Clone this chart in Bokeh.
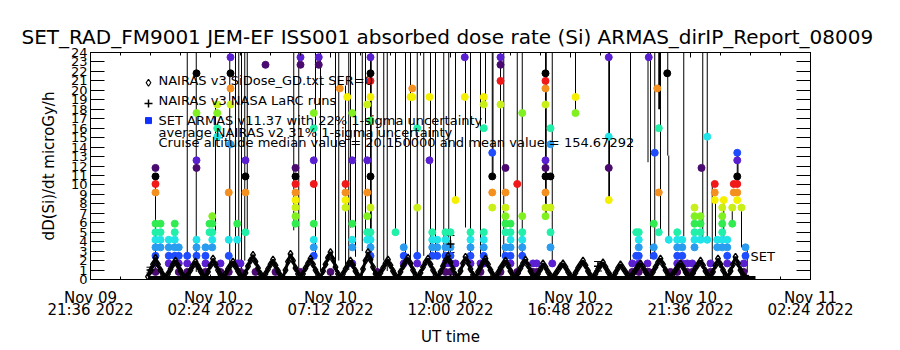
import numpy as np
from bokeh.plotting import figure
from bokeh.models import (Range1d, FixedTicker, LinearAxis, CustomJSTickFormatter,
                          Label, ColumnDataSource, Whisker, TeeHead, Title)
from bokeh.embed import file_html
from bokeh.resources import INLINE

FONT = "DejaVu Sans"

# ---------------- data ----------------
title_text = "SET_RAD_FM9001  JEM-EF ISS001 absorbed dose rate (Si) ARMAS_dirIP_Report_08009"
# hours after 2022-11-09 21:36 UT
x_tick_hours = [0, 4.8, 9.6, 14.4, 19.2, 24, 28.8]
x_tick_labels = ["Nov 09\n21:36 2022", "Nov 10\n02:24 2022", "Nov 10\n07:12 2022",
                 "Nov 10\n12:00 2022", "Nov 10\n16:48 2022", "Nov 10\n21:36 2022",
                 "Nov 11\n02:24 2022"]
y_ticks = list(range(0, 25))

legend_lines = ["NAIRAS v3 SiDose_GD.txt SER=0",
                "NAIRAS v3 NASA LaRC runs",
                "SET ARMAS v11.37 with 22% 1-sigma uncertainty",
                "average NAIRAS v2 31% 1-sigma uncertainty",
                "Cruise altitude median value = 20.150000 and mean value = 154.67292"]

# SET ARMAS measurements: one time per column, several dose readings per column
set_col_hours = [
    2.60, 2.80, 3.13, 3.37, 3.53, 3.87, 4.24, 4.60, 4.76, 4.87,
    5.07, 5.20, 5.53, 5.60, 5.87, 6.00, 6.20, 6.60, 7.00, 7.40,
    8.20, 8.40, 8.93, 9.13, 9.60, 9.97, 10.20, 10.27, 10.47, 11.07,
    11.20, 11.47, 12.20, 12.53, 12.80, 12.87, 13.07, 13.56, 13.67, 13.87,
    14.20, 14.40, 14.60, 14.97, 15.20, 15.60, 15.73, 16.07, 16.40, 16.60,
    16.80, 17.07, 17.27, 17.70, 17.85, 18.20, 18.40, 18.47, 19.40, 20.73,
    21.67, 21.83, 21.93, 22.28, 22.33, 22.53, 22.57, 22.67, 22.73, 23.07,
    23.13, 23.20, 23.47, 23.67, 23.87, 24.07, 24.16, 24.40, 24.44, 24.67,
    24.80, 24.97, 25.07, 25.27, 25.33, 25.47, 25.67, 25.73, 25.87, 26.04,
    26.13, 26.20]
set_col_doses = [
    [11.8, 10.9, 10.1, 9.2, 5.9, 5.0, 4.2, 3.4, 2.5, 1.7, 0.8],
    [5.9, 5.0, 4.2, 3.4],
    [4.2, 3.4, 2.5, 1.7],
    [5.9, 5.0, 4.2, 3.4, 2.5],
    [3.4, 2.5, 1.7, 0.8],
    [2.5, 1.7, 0.8],
    [21.8, 17.6, 12.6, 11.8, 4.2, 3.4, 2.5],
    [3.4, 2.5, 1.7, 0.8],
    [5.9, 5.0],
    [6.7, 5.9, 5.0, 4.2, 3.4],
    [18.5, 17.6, 16.0, 15.1],
    [1.7, 0.8],
    [9.2, 4.2, 2.5, 0.8],
    [23.5, 21.8, 20.2, 18.5, 14.3],
    [5.9, 4.2, 1.7],
    [1.7, 0.8],
    [12.6, 10.9, 9.2, 5.0],
    [0.8],
    [22.7],
    [0.8],
    [11.8, 10.9, 10.1, 9.2, 8.4, 7.6, 6.7, 5.9],
    [23.5, 22.7, 0.8],
    [17.6, 16.0, 12.6, 10.1, 5.9, 4.2, 3.4, 2.5],
    [23.5, 22.7],
    [0.8],
    [20.2],
    [10.1, 9.2, 8.4, 7.6],
    [19.3],
    [17.6, 12.6, 5.9, 4.2, 3.4, 1.7],
    [18.5, 12.6, 9.2, 6.7, 5.0, 4.2],
    [23.5, 21.8, 21.0, 19.3, 16.8, 10.9, 7.6, 5.0, 4.2, 3.4, 2.5],
    [0.8],
    [5.0],
    [3.4, 2.5, 1.7],
    [19.3],
    [20.2, 19.3],
    [16.0, 7.6, 2.5, 1.7],
    [19.3, 12.6],
    [5.0, 4.2, 3.4, 2.5],
    [4.2, 3.4, 2.5],
    [5.0, 4.2, 3.4, 2.5, 1.7, 0.8],
    [5.0, 3.4, 2.5, 1.7, 0.8],
    [8.4, 1.7],
    [23.5, 19.3],
    [5.0, 4.2, 3.4, 2.5, 1.7],
    [1.7, 0.8],
    [19.3, 18.5, 16.0, 5.0, 4.2, 3.4, 2.5, 1.7],
    [13.4, 10.9, 9.2, 7.6],
    [23.5, 22.7, 21.0, 18.5, 0.8],
    [11.8, 9.2, 7.6, 6.7, 5.9, 5.0, 3.4, 2.5],
    [5.9, 5.0, 4.2, 3.4, 2.5, 1.7],
    [10.1, 0.8],
    [17.6, 6.7, 5.0, 4.2, 3.4, 2.5],
    [1.7, 0.8],
    [1.7, 0.8],
    [21.8, 21.0, 20.2, 18.5, 12.6, 11.8, 10.9, 9.2, 7.6, 6.7],
    [16.0, 14.3, 10.9, 7.6, 5.0, 3.4],
    [1.7],
    [19.3, 17.6],
    [23.5, 15.1, 11.8, 8.4],
    [1.7, 0.8],
    [5.0, 2.5],
    [5.0, 4.2, 3.4, 2.5, 1.7, 0.8],
    [1.7, 0.8],
    [23.5, 0.8],
    [5.9, 3.4, 2.5],
    [13.4],
    [20.2],
    [16.0, 9.2, 5.0],
    [21.8],
    [4.2],
    [0.8],
    [5.0, 4.2, 3.4, 2.5, 1.7, 0.8],
    [4.2, 3.4, 2.5, 1.7],
    [1.7, 0.8],
    [1.7, 0.8],
    [7.6, 6.7, 5.9, 5.0, 4.2, 3.4],
    [6.7, 5.9, 5.0, 4.2],
    [11.8],
    [15.1, 4.2],
    [1.7, 0.8],
    [10.1, 9.2, 8.4],
    [4.2, 3.4],
    [7.6, 6.7, 5.9, 5.0, 4.2, 3.4],
    [8.4],
    [4.2, 3.4, 2.5, 1.7],
    [7.6, 5.9],
    [10.1, 9.2],
    [13.4, 12.6, 10.9, 10.1, 9.2, 8.4],
    [7.6],
    [1.7, 0.8],
    [3.4, 2.5]]

# SET zero-dose readings (time span)
set_zero_span = [2.3, 26.6]

# SET uncertainty bars (lower end, upper end; many run off the top)
err_hours = [2.60, 3.87, 4.23, 5.00, 5.57, 5.80, 5.93, 6.04, 6.17, 6.27,
             8.13, 8.33, 9.00, 9.20, 9.80, 9.93, 10.20, 10.33, 10.40, 10.60,
             10.87, 11.00, 11.20, 11.23, 11.47, 11.73, 11.87, 12.20, 12.60, 12.80,
             13.07, 13.33, 13.60, 13.80, 14.13, 14.33, 14.60, 15.00, 15.20, 15.60,
             15.80, 16.07, 16.10, 16.40, 16.53, 17.07, 17.27, 18.20, 18.23, 18.47,
             19.40, 20.73, 20.76, 21.60, 22.30, 22.40, 22.57, 22.73, 22.76, 22.80,
             23.09, 23.13, 23.73, 24.49, 24.67, 24.87, 25.00, 25.33, 25.67, 25.87,
             25.90, 26.04, 26.27]
err_lo = [0.8, 2.5, 0.8, 5.0, 0.8, 1.2, 1.7, 0.8, 2.0, 5.0,
          5.2, 0.9, 2.5, 0.9, 0.8, 2.0, 0.9, 1.0, 5.5, 2.4,
          3.0, 5.0, 2.7, 2.7, 0.9, 2.0, 0.9, 5.0, 2.4, 1.2,
          2.4, 2.5, 2.7, 2.6, 2.5, 2.7, 8.4, 5.5, 2.7, 2.4,
          16.5, 11.2, 11.2, 2.4, 1.2, 0.9, 2.7, 7.0, 7.0, 2.0,
          17.6, 8.4, 8.4, 1.5, 12.4, 2.2, 2.2, 18.0, 18.0, 5.0,
          13.1, 4.2, 4.6, 4.3, 4.3, 1.5, 4.2, 4.2, 5.9, 10.0,
          10.0, 3.4, 0.8]
err_hi = [10.9, 30, 30, 18.5, 30, 30, 30, 30, 30, 30,
          30, 30, 30, 30, 30, 30, 20.5, 30, 30, 30,
          30, 30, 30, 30, 30, 30, 30, 30, 30, 30,
          30, 30, 30, 30, 30, 30, 30, 30, 30, 30,
          30, 30, 30, 30, 30, 30, 30, 30, 30, 30,
          30, 30, 30, 30, 30, 30, 30, 30, 30, 30,
          30, 13.1, 30, 30, 30, 10.0, 8.7, 8.4, 7.6, 13.4,
          13.4, 7.6, 3.4]

# NAIRAS v3 model dose rate, sampled every 0.1 h from 2.3 h
nairas_start = 2.3
nairas_step = 0.1
nairas_dose = [
    0.3, 0.9, 1.6, 2.3, 1.6, 1.0, 0.5, 0.2,
    0.6, 1.1, 1.6, 2.0, 1.5, 0.9, 0.4, 0.2,
    0.5, 1.0, 1.5, 1.9, 1.4, 0.9, 0.4,
    0.2, 0.8, 1.5, 2.2, 1.6, 1.0, 0.5, 0.2,
    0.6, 1.1, 1.5, 1.9, 1.4, 0.9, 0.4, 0.2,
    0.7, 1.4, 2.0, 2.6, 1.9, 1.2, 0.6, 0.2,
    0.6, 1.1, 1.6, 2.1, 1.5, 0.9, 0.4,
    0.2, 1.0, 1.9, 2.7, 2.0, 1.2, 0.6, 0.2,
    0.6, 1.2, 1.7, 2.2, 1.6, 1.0, 0.5, 0.2,
    0.9, 1.6, 2.3, 2.9, 2.1, 1.3, 0.6, 0.2,
    0.6, 1.1, 1.6, 2.0, 1.5, 0.9, 0.4,
    0.2, 1.1, 2.0, 2.9, 2.1, 1.3, 0.6, 0.2,
    0.7, 1.2, 1.7, 2.1, 1.5, 0.9, 0.4, 0.2,
    0.8, 1.4, 1.9, 2.3, 1.7, 1.0, 0.5, 0.2,
    0.7, 1.3, 1.8, 2.2, 1.6, 1.0, 0.5, 0.2,
    0.8, 1.4, 2.0, 2.5, 1.8, 1.1, 0.5,
    0.2, 0.9, 1.7, 2.4, 1.8, 1.1, 0.5, 0.2,
    0.8, 1.3, 1.8, 2.2, 1.6, 1.0, 0.5, 0.2,
    0.7, 1.2, 1.6, 2.0, 1.5, 0.9, 0.4, 0.2,
    0.7, 1.2, 1.7, 2.1, 1.5, 0.9, 0.4, 0.2,
    0.6, 1.1, 1.7, 1.3, 0.8, 0.4, 0.2,
    0.6, 1.0, 1.4, 1.7, 1.3, 0.8, 0.4, 0.2,
    0.7, 1.2, 1.6, 2.0, 1.5, 0.9, 0.4, 0.2,
    0.6, 1.1, 1.5, 1.8, 1.3, 0.8, 0.4, 0.2,
    0.7, 1.2, 1.6, 1.2, 0.8, 0.4, 0.2,
    0.6, 1.0, 1.4, 1.7, 1.3, 0.8, 0.4, 0.2,
    0.8, 1.3, 1.8, 2.2, 1.6, 1.0, 0.5, 0.2,
    0.6, 1.0, 1.4, 1.7, 1.3, 0.8, 0.4, 0.2,
    0.7, 1.2, 1.6, 2.0, 1.5, 0.9, 0.4, 0.2,
    0.8, 1.5, 2.2, 1.6, 1.0, 0.5, 0.2,
    0.9, 1.6, 2.4, 1.7, 1.0, 0.5, 0.2, 0.1]

# NAIRAS v3 NASA LaRC runs with 31% uncertainty
larc_hours = [2.40, 14.40, 20.30]
larc_dose = [1.0, 3.75, 1.4]
larc_sigma = [0.3, 0.9, 0.5]

# colour table (wraps around as in the original)
palette = ["#000000", "#4a0a70", "#5a1fd0", "#1f4cff", "#2a9cf0", "#20e4e8",
           "#20f0a8", "#30ec50", "#80f020", "#c8f018", "#f4f000", "#f49020", "#f01818"]
LEVEL = 0.84

# ---------------- derived ----------------
set_hours, set_dose = [], []
for h, doses in zip(set_col_hours, set_col_doses):
    for d in doses:
        set_hours.append(h)
        set_dose.append(d)
set_color = [palette[int(round(d / LEVEL)) % 13] for d in set_dose]
nairas_hours = [nairas_start + nairas_step * i for i in range(len(nairas_dose))]
x_minor = [round(1.2 * i, 2) for i in range(25)]

# ---------------- figure ----------------
p = figure(width=900, height=350, x_range=Range1d(0, 28.8), y_range=Range1d(0, 24),
           output_backend="svg", toolbar_location=None,
           x_axis_type=None, y_axis_type=None,
           min_border_left=90, min_border_right=90, min_border_top=52, min_border_bottom=71,
           background_fill_color="white", border_fill_color="white")
p.outline_line_color = "black"
p.outline_line_width = 1

def style_axis(ax):
    ax.axis_line_color = "black"
    ax.major_tick_line_color = "black"
    ax.minor_tick_line_color = "black"
    ax.major_label_text_color = "black"
    ax.axis_label_text_color = "black"
    ax.major_label_text_font = FONT
    ax.axis_label_text_font = FONT
    ax.axis_label_text_font_style = "normal"

blank = CustomJSTickFormatter(code="return ''")

xb = LinearAxis(ticker=FixedTicker(ticks=x_tick_hours, minor_ticks=x_minor),
                major_label_overrides={k: v for k, v in zip(x_tick_hours, x_tick_labels)},
                axis_label="UT time")
style_axis(xb)
xb.major_tick_in = 5
xb.major_tick_out = 0
xb.minor_tick_in = 3
xb.minor_tick_out = 0
xb.major_label_standoff = 9
xb.major_label_text_font_size = "15px"
xb.major_label_text_line_height = 0.72
xb.axis_label_text_font_size = "15px"
xb.axis_label_standoff = 6
p.add_layout(xb, "below")

xt = LinearAxis(ticker=FixedTicker(ticks=x_tick_hours, minor_ticks=x_minor), formatter=blank)
style_axis(xt)
xt.major_tick_in = 5
xt.major_tick_out = 0
xt.minor_tick_in = 3
xt.minor_tick_out = 0
xt.major_label_standoff = 0
xt.major_label_text_font_size = "1px"
p.add_layout(xt, "above")

yl = LinearAxis(ticker=FixedTicker(ticks=y_ticks, minor_ticks=[]),
                axis_label="dD(Si)/dt microGy/h")
style_axis(yl)
yl.major_tick_in = 14
yl.major_tick_out = 0
yl.minor_tick_in = 0
yl.minor_tick_out = 0
yl.major_label_standoff = 3
yl.major_label_text_font_size = "13px"
yl.axis_label_text_font_size = "15px"
yl.axis_label_standoff = 10
p.add_layout(yl, "left")

yr = LinearAxis(ticker=FixedTicker(ticks=y_ticks, minor_ticks=[]), formatter=blank)
style_axis(yr)
yr.major_tick_in = 14
yr.major_tick_out = 0
yr.minor_tick_in = 0
yr.minor_tick_out = 0
yr.major_label_text_font_size = "1px"
p.add_layout(yr, "right")

# title
p.add_layout(Title(text=title_text, align="center", text_font=FONT, text_font_size="20px",
                   text_font_style="normal", text_color="black", standoff=8), "above")

# zero readings band
p.line(x=set_zero_span, y=[0, 0], line_color="black", line_width=7)

# uncertainty lines
p.segment(x0=err_hours, y0=err_lo, x1=err_hours, y1=err_hi, line_color="black", line_width=1)

# SET points
p.scatter(x=set_hours, y=set_dose, marker="circle", size=7,
          fill_color=set_color, line_color=set_color)

# NAIRAS diamonds (dense, drawn as thick traced outline)
p.line(x=nairas_hours, y=nairas_dose, line_color="black", line_width=3)
p.scatter(x=nairas_hours, y=nairas_dose, marker="diamond", size=7,
          fill_alpha=0, line_color="black", line_width=1.4)

# LaRC runs with error bars
lsrc = ColumnDataSource(dict(t=larc_hours, d=larc_dose,
                             lo=[d - s for d, s in zip(larc_dose, larc_sigma)],
                             hi=[d + s for d, s in zip(larc_dose, larc_sigma)]))
p.add_layout(Whisker(source=lsrc, base="t", lower="lo", upper="hi", dimension="height",
                     line_color="black", line_width=1,
                     upper_head=TeeHead(size=8, line_color="black"),
                     lower_head=TeeHead(size=8, line_color="black")))
p.scatter(x="t", y="d", source=lsrc, marker="cross", size=8, line_color="black", line_width=1.5)

# legend
leg_x_sym = 2.32
leg_x_txt = 2.72
leg_y = [21.0, 18.9, 16.86, 15.5, 14.48]
p.scatter(x=[leg_x_sym], y=[20.8], marker="diamond", size=7, fill_alpha=0,
          line_color="black", line_width=1.2)
p.scatter(x=[leg_x_sym], y=[18.6], marker="cross", size=8, line_color="black", line_width=1.5)
p.scatter(x=[leg_x_sym], y=[16.8], marker="square", size=6, fill_color="#1030ff",
          line_color="#1030ff")
for txt, yy in zip(legend_lines, leg_y):
    p.add_layout(Label(x=leg_x_txt, y=yy, text=txt, text_baseline="middle",
                       text_font=FONT, text_font_size="13px", text_color="black"))

p.add_layout(Label(x=26.4, y=2.45, text="SET", text_baseline="middle",
                   text_font=FONT, text_font_size="13px", text_color="black"))

open("out.html", "w").write(file_html(p, INLINE))
